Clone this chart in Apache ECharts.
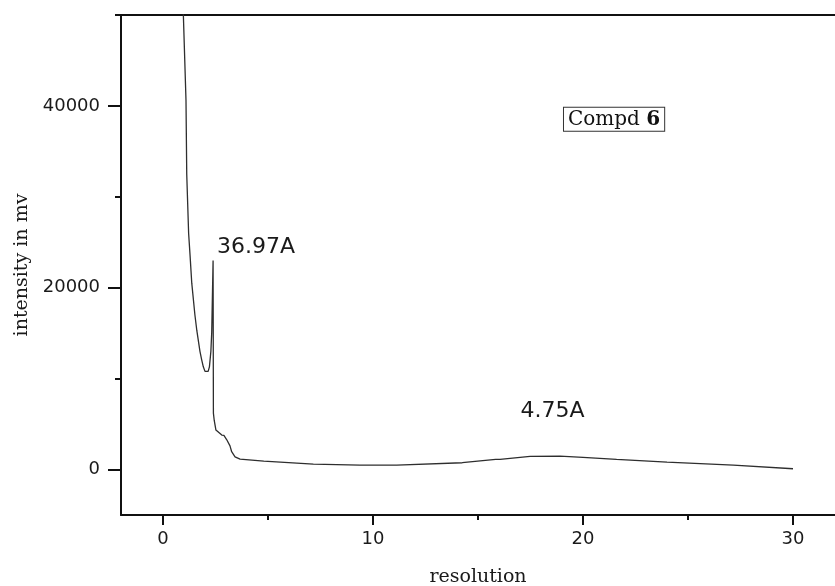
<!DOCTYPE html>
<html>
<head>
<meta charset="utf-8">
<script src="https://cdn.jsdelivr.net/npm/echarts@6/dist/echarts.min.js"></script>
<style>html,body{margin:0;padding:0;background:#fff;overflow:hidden}#c{width:835px;height:586px}</style>
</head>
<body>
<div id="c"></div>
<script>
// resolution (x) values of the trace
const resolution = [0.92, 0.97, 1.095, 1.13, 1.22, 1.29, 1.37, 1.52, 1.61, 1.76, 1.84, 1.92, 2.0, 2.08, 2.15, 2.21, 2.28, 2.32, 2.385, 2.40, 2.44, 2.52, 2.80, 2.90, 3.03, 3.19, 3.27, 3.43, 3.67, 4.8, 7.16, 9.38, 11.13, 14.25, 15.84, 16.05, 17.48, 18.9, 20.0, 21.6, 24.0, 27.16, 30.0];
// intensity (mv) values of the trace
const intensity = [56000, 49960, 40600, 32500, 26000, 23500, 20500, 17000, 15300, 13000, 12100, 11300, 10800, 10600, 10800, 11300, 13000, 15100, 23000, 6200, 5400, 4340, 3790, 3750, 3300, 2600, 1960, 1400, 1150, 920, 600, 495, 495, 750, 1120, 1120, 1450, 1480, 1340, 1120, 820, 495, 90];

const xMajorTicks = [0, 10, 20, 30];
const xMinorTicks = [5, 15, 25];
const yMajorTicks = [0, 20000, 40000];
const yMinorTicks = [10000, 30000, 50000];

const peakLabels = ['36.97A', '4.75A'];
const peakLabelX = [2.57, 18.55];
const peakLabelY = [24400, 6370];
const boxLabelX = 21.48;
const boxLabelY = 38540;

const xMin = -2, xMax = 32, yMin = -5000, yMax = 50000;

const chart = echarts.init(document.getElementById('c'), null, {renderer: 'canvas'});
const axisLineStyle = {color: '#111', width: 2};
const labelStyle = {color: '#1a1a1a', fontFamily: 'DejaVu Sans', fontSize: 18, formatter: v => String(v)};

const data = resolution.map((x, i) => [x, intensity[i]]);

chart.setOption({
  animation: false,
  backgroundColor: '#fff',
  grid: {left: 121, right: 0, top: 15, bottom: 71, containLabel: false, outerBoundsMode: 'none'},
  xAxis: [
    {
      type: 'value', position: 'bottom', min: xMin, max: xMax,
      axisLine: {show: true, onZero: false, lineStyle: axisLineStyle},
      axisTick: {show: true, inside: false, length: 10, lineStyle: {color: '#111', width: 2}, customValues: xMajorTicks},
      axisLabel: {show: true, margin: 15, customValues: xMajorTicks, ...labelStyle},
      splitLine: {show: false},
      name: 'resolution', nameLocation: 'middle', nameGap: 53,
      nameTextStyle: {fontFamily: 'DejaVu Serif', fontSize: 19, color: '#1a1a1a', verticalAlign: 'top'}
    },
    {
      type: 'value', position: 'bottom', min: xMin, max: xMax, gridIndex: 0,
      axisLine: {show: false, onZero: false},
      axisTick: {show: true, inside: false, length: 5, lineStyle: {color: '#111', width: 2}, customValues: xMinorTicks},
      axisLabel: {show: false},
      splitLine: {show: false}
    },
    {
      type: 'value', position: 'top', min: xMin, max: xMax,
      axisLine: {show: true, onZero: false, lineStyle: {color: '#111', width: 2}},
      axisTick: {show: false}, axisLabel: {show: false}, splitLine: {show: false}
    }
  ],
  yAxis: [
    {
      type: 'value', position: 'left', min: yMin, max: yMax,
      axisLine: {show: true, onZero: false, lineStyle: axisLineStyle},
      axisTick: {show: true, inside: false, length: 13, lineStyle: {color: '#111', width: 2}, customValues: yMajorTicks},
      axisLabel: {show: true, margin: 21, customValues: yMajorTicks, ...labelStyle},
      splitLine: {show: false},
      name: 'intensity in mv', nameLocation: 'middle', nameGap: 88, nameRotate: 90,
      nameTextStyle: {fontFamily: 'DejaVu Serif', fontSize: 19, color: '#1a1a1a'}
    },
    {
      type: 'value', position: 'left', min: yMin, max: yMax,
      axisLine: {show: false, onZero: false},
      axisTick: {show: true, inside: false, length: 6, lineStyle: {color: '#111', width: 2}, customValues: yMinorTicks},
      axisLabel: {show: false},
      splitLine: {show: false}
    }
  ],
  series: [
    {
      type: 'line', xAxisIndex: 0, yAxisIndex: 0,
      data: data, showSymbol: false, symbol: 'none', clip: true,
      lineStyle: {color: '#2e2e2e', width: 1.3},
      markPoint: {
        symbol: 'circle', symbolSize: 0, silent: true,
        data: [
          {coord: [peakLabelX[0], peakLabelY[0]], value: peakLabels[0],
           label: {show: true, formatter: peakLabels[0], position: 'right', distance: 0, align: 'left', verticalAlign: 'middle', color: '#1a1a1a', fontFamily: 'DejaVu Sans', fontSize: 22}},
          {coord: [peakLabelX[1], peakLabelY[1]], value: peakLabels[1],
           label: {show: true, formatter: peakLabels[1], position: 'inside', align: 'center', verticalAlign: 'middle', color: '#1a1a1a', fontFamily: 'DejaVu Sans', fontSize: 22}},
          {coord: [boxLabelX, boxLabelY], value: 'Compd 6',
           label: {show: true, formatter: '{a|Compd }{b|6}', position: 'inside', align: 'center', verticalAlign: 'middle',
             borderColor: '#333', borderWidth: 1, padding: [2, 4, 1, 4], backgroundColor: '#fff',
             rich: {a: {fontFamily: 'DejaVu Serif', fontSize: 20, color: '#111'},
                    b: {fontFamily: 'DejaVu Serif', fontSize: 20, fontWeight: 'bold', color: '#111'}}}}
        ]
      }
    }
  ]
});
</script>
</body>
</html>
